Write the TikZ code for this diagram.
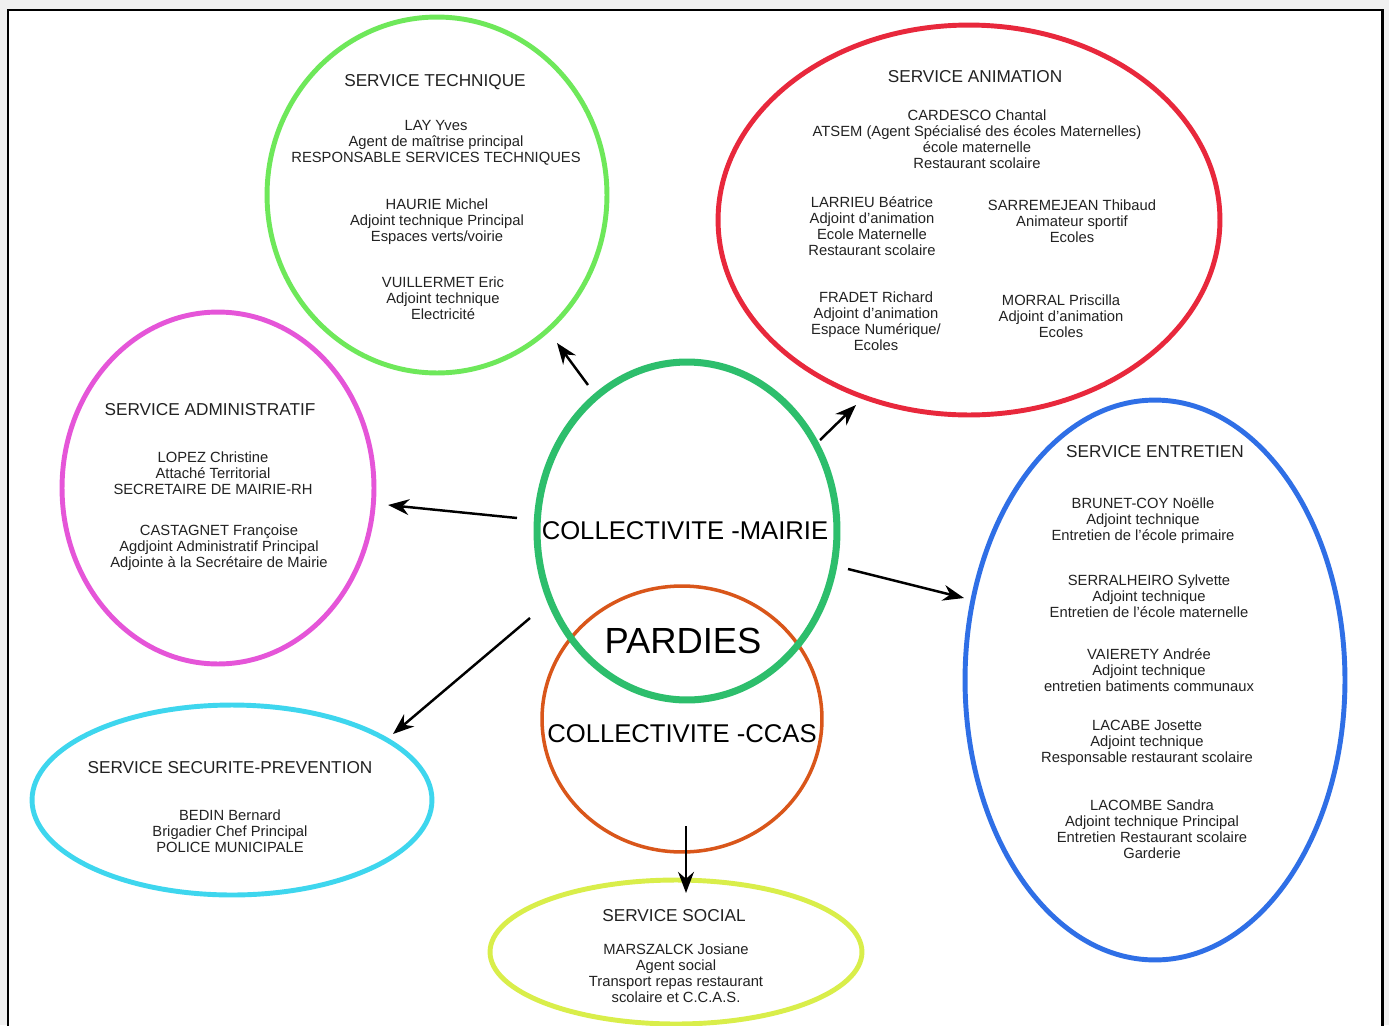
\documentclass[tikz,border=0pt]{standalone}
\usepackage{fontspec}
\setmainfont{Liberation Sans}
\usetikzlibrary{shapes.geometric,arrows.meta}
\definecolor{ctech}{HTML}{6EE85A}
\definecolor{canim}{HTML}{E8283C}
\definecolor{cadmin}{HTML}{E555D8}
\definecolor{centr}{HTML}{2F6FE6}
\definecolor{csecu}{HTML}{3ED6EE}
\definecolor{csoc}{HTML}{D9EE4A}
\definecolor{cmairie}{HTML}{2DBE6C}
\definecolor{cccas}{HTML}{D9561A}
\definecolor{txt}{HTML}{222222}
\definecolor{outbg}{HTML}{F0F0F0}
\tikzset{
  svc/.style={ellipse, draw, line width=2.8pt, inner sep=0pt, outer sep=0pt},
  ttl/.style={font=\fontsize{9.8}{11}\selectfont, text=txt, inner sep=0pt},
  pers/.style={font=\fontsize{8.4}{9.2}\selectfont, text=txt, align=center, inner sep=0pt},
  big/.style={font=\fontsize{14.6}{16}\selectfont, text=black, inner sep=0pt},
  arr/.style={draw=black, line width=1.4pt, -{Stealth[length=12pt,width=9pt]}}
}
\begin{document}
\begin{tikzpicture}[x=0.02cm,y=-0.02cm]
\useasboundingbox (0,0) rectangle (1389,1025);
\fill[outbg] (0,0) rectangle (1389,1025);
\fill[white] (8,10) rectangle (1382,1025);
\draw[black, line width=1.7pt] (8,1030) -- (8,10) -- (1382,10) -- (1382,1030);

% service ellipses
\node[svc, draw=ctech, minimum width=6.8cm, minimum height=7.12cm] (tech) at (437,195) {};
\node[svc, draw=canim, minimum width=10.04cm, minimum height=7.8cm] (anim) at (969,220) {};
\node[svc, draw=cadmin, minimum width=6.24cm, minimum height=7.04cm] (admin) at (218,488) {};
\node[svc, draw=centr, minimum width=7.6cm, minimum height=11.2cm] (entr) at (1155,680) {};
\node[svc, draw=csecu, minimum width=8cm, minimum height=3.8cm] (secu) at (232,800) {};
\node[svc, draw=csoc, minimum width=7.44cm, minimum height=2.88cm] (soc) at (676,952) {};

% central ellipses
\node[ellipse, draw=cccas, line width=2pt, inner sep=0pt, minimum width=5.6cm, minimum height=5.32cm] (ccas) at (682,719) {};
\node[ellipse, draw=cmairie, line width=4pt, inner sep=0pt, minimum width=6.0cm, minimum height=6.76cm] (mairie) at (687,531) {};

\node[big] (tmairie) at (685,531) {COLLECTIVITE -MAIRIE};
\node[font=\fontsize{20.7}{22}\selectfont, inner sep=0pt] (pardies) at (683,641) {PARDIES};
\node[big] (tccas) at (682,734) {COLLECTIVITE -CCAS};

% technique
\node[ttl] (t0) at (435,82) {SERVICE TECHNIQUE};
\node[pers] (t1) at (436,143) {LAY Yves\\Agent de maîtrise principal\\RESPONSABLE SERVICES TECHNIQUES};
\node[pers] (t2) at (437,222) {HAURIE Michel\\Adjoint technique Principal\\Espaces verts/voirie};
\node[pers] (t3) at (443,298) {VUILLERMET Eric\\Adjoint technique\\Electricité};

% animation
\node[ttl] (a0) at (975,77) {SERVICE ANIMATION};
\node[pers] (a1) at (977,139) {CARDESCO Chantal\\ATSEM (Agent Spécialisé des écoles Maternelles)\\école maternelle\\Restaurant scolaire};
\node[pers] (a2) at (872,226) {LARRIEU Béatrice\\Adjoint d'animation\\Ecole Maternelle\\Restaurant scolaire};
\node[pers] (a3) at (1072,221) {SARREMEJEAN Thibaud\\Animateur sportif\\Ecoles};
\node[pers] (a4) at (876,321) {FRADET Richard\\Adjoint d'animation\\Espace Numérique/\\Ecoles};
\node[pers] (a5) at (1061,316) {MORRAL Priscilla\\Adjoint d'animation\\Ecoles};

% administratif
\node[ttl] (d0) at (210,410) {SERVICE ADMINISTRATIF};
\node[pers] (d1) at (213,473) {LOPEZ Christine\\Attaché Territorial\\SECRETAIRE DE MAIRIE-RH};
\node[pers] (d2) at (219,548) {CASTAGNET Françoise\\Agdjoint Administratif Principal\\Adjointe à la Secrétaire de Mairie};

% entretien
\node[ttl] (e0) at (1155,452) {SERVICE ENTRETIEN};
\node[pers] (e1) at (1143,521) {BRUNET-COY Noëlle\\Adjoint technique\\Entretien de l'école primaire};
\node[pers] (e2) at (1149,596) {SERRALHEIRO Sylvette\\Adjoint technique\\Entretien de l'école maternelle};
\node[pers] (e3) at (1149,670) {VAIERETY Andrée\\Adjoint technique\\entretien batiments communaux};
\node[pers] (e4) at (1147,743) {LACABE Josette\\Adjoint technique\\Responsable restaurant scolaire};
\node[pers] (e5) at (1152,829) {LACOMBE Sandra\\Adjoint technique Principal\\Entretien Restaurant scolaire\\Garderie};

% securite
\node[ttl] (s0) at (230,768) {SERVICE SECURITE-PREVENTION};
\node[pers] (s1) at (230,831) {BEDIN Bernard\\Brigadier Chef Principal\\POLICE MUNICIPALE};

% social
\node[ttl] (o0) at (674,916) {SERVICE SOCIAL};
\node[pers] (o1) at (676,973) {MARSZALCK Josiane\\Agent social\\Transport repas restaurant\\scolaire et C.C.A.S.};

% arrow end points
\coordinate (m1) at (588,385); \coordinate (g1) at (557,343);
\coordinate (m2) at (820,440); \coordinate (g2) at (856,405);
\coordinate (m3) at (517,518); \coordinate (g3) at (388,505);
\coordinate (m4) at (848,569); \coordinate (g4) at (964,598);
\coordinate (m5) at (530,618); \coordinate (g5) at (393,734);
\coordinate (m6) at (686,826); \coordinate (g6) at (686,893);
\draw[arr] (m1) -- (g1);
\draw[arr] (m2) -- (g2);
\draw[arr] (m3) -- (g3);
\draw[arr] (m4) -- (g4);
\draw[arr] (m5) -- (g5);
\draw[arr] (m6) -- (g6);
\end{tikzpicture}
\end{document}
